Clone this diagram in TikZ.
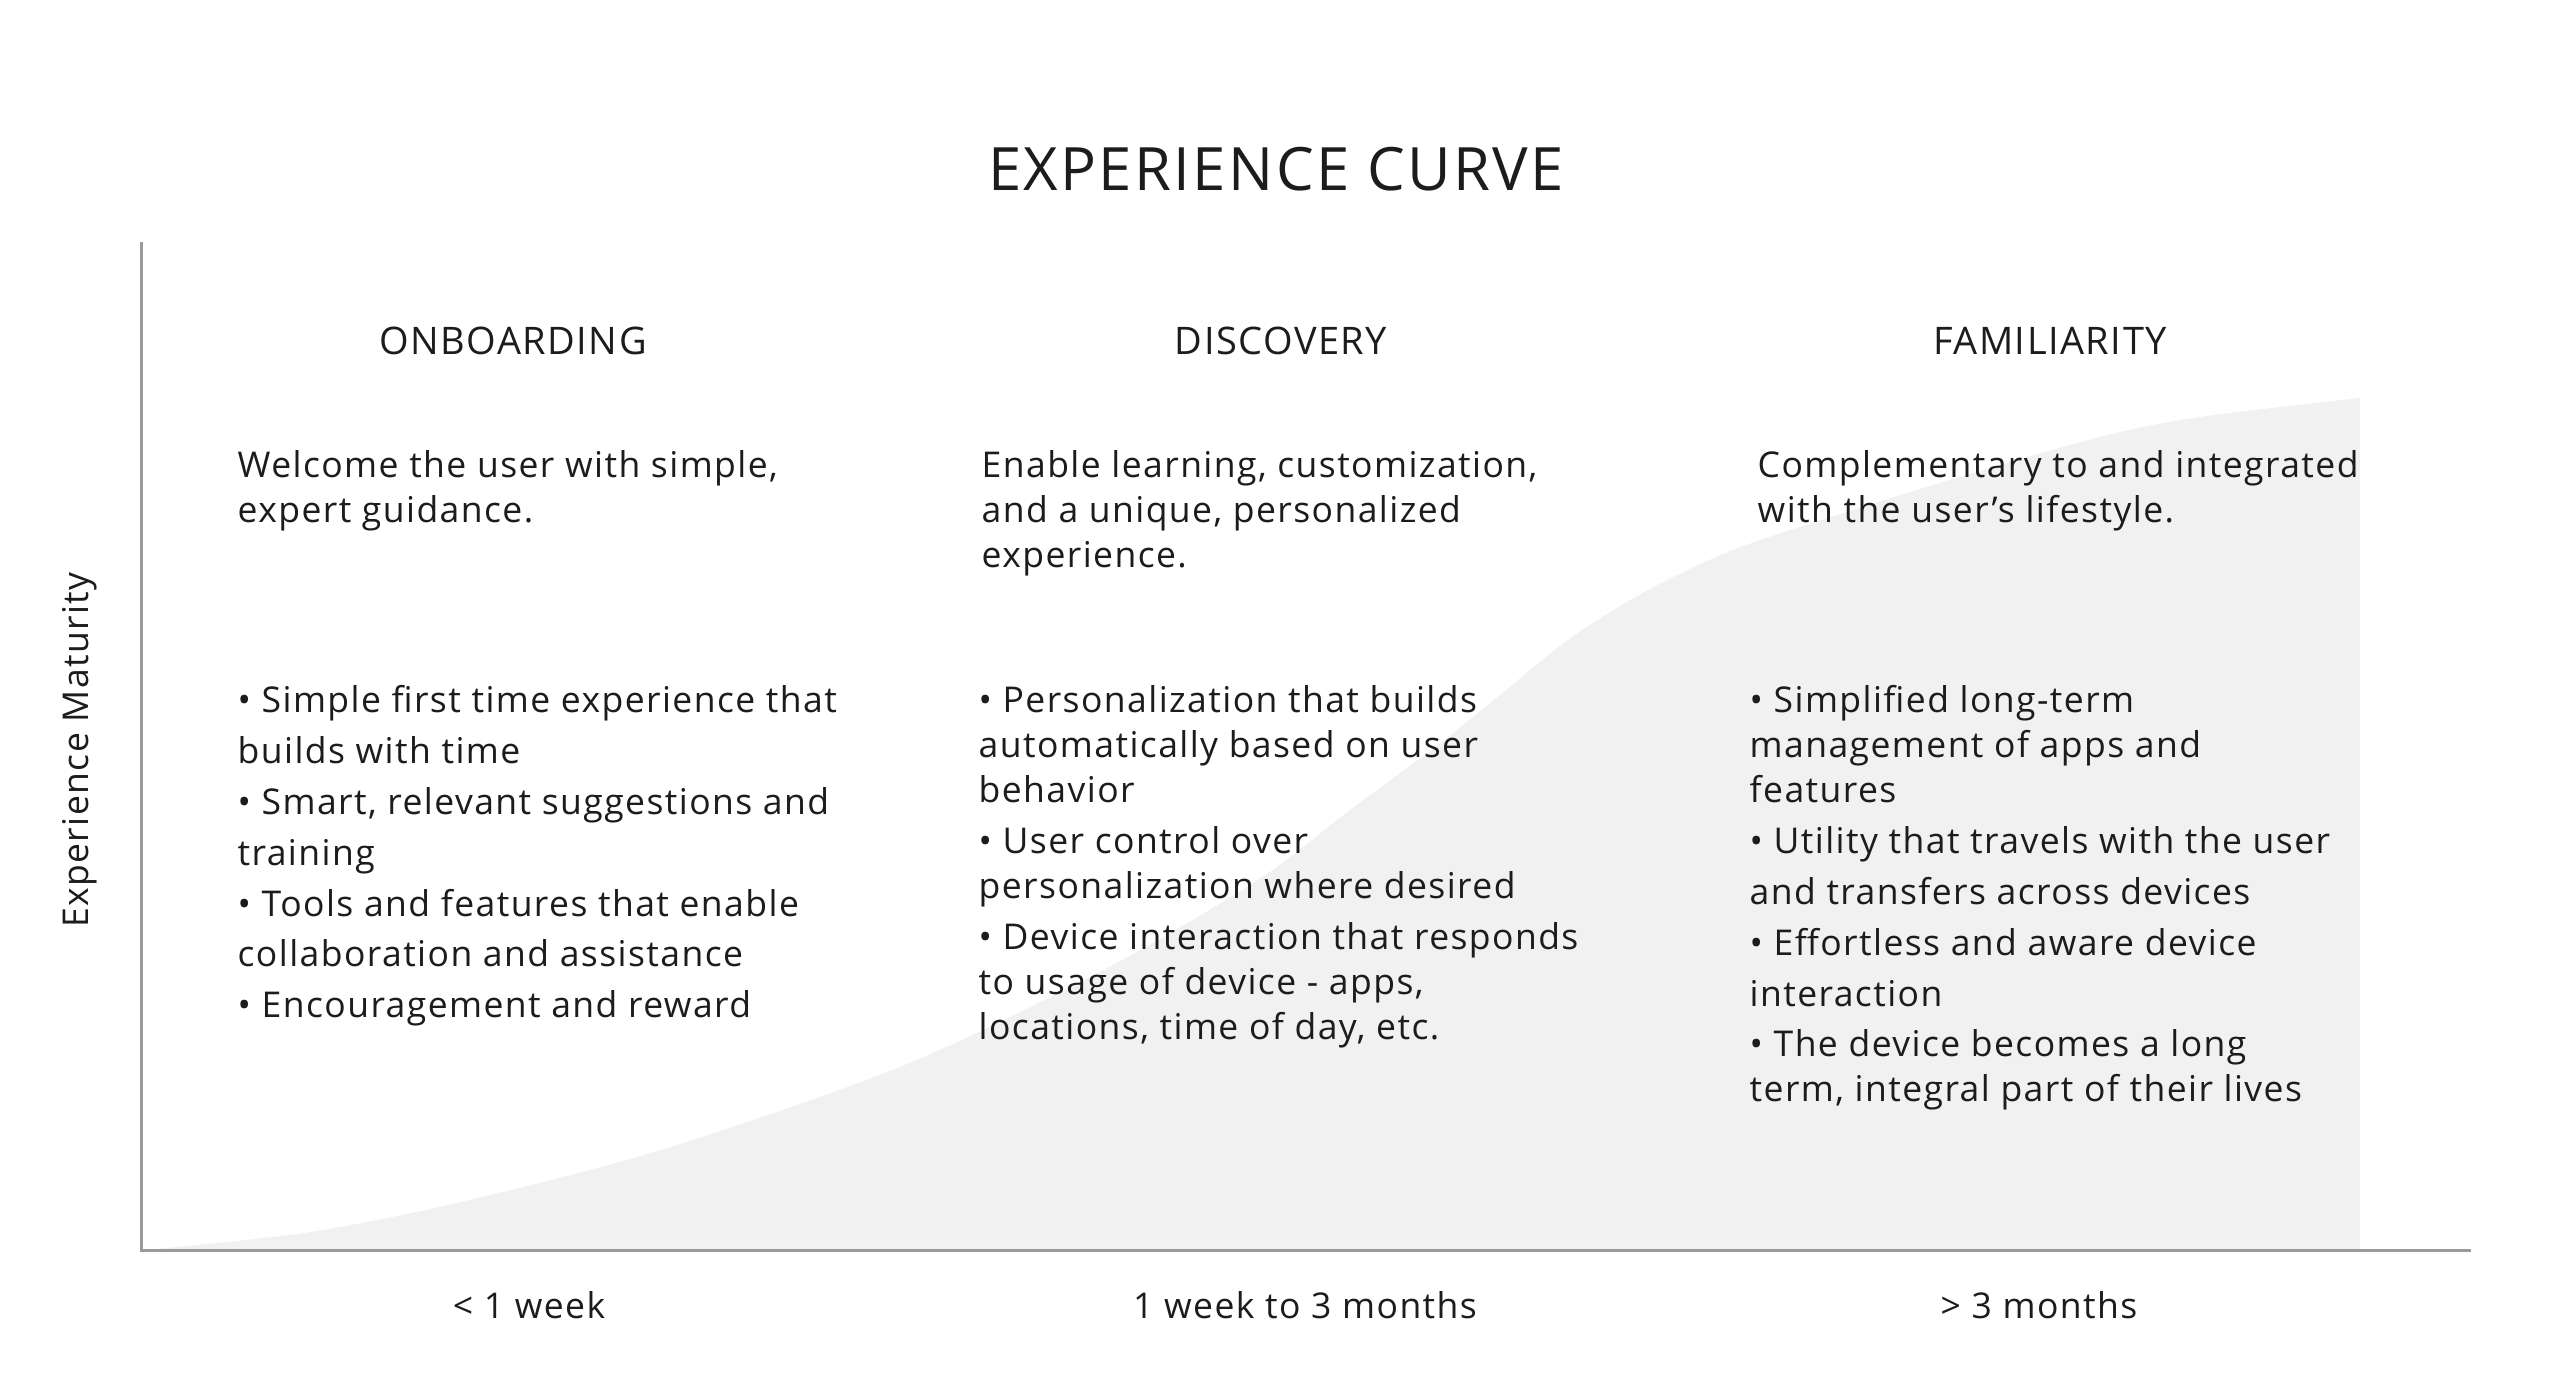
\documentclass[tikz,border=0pt]{standalone}
\usepackage{fontspec}
\setmainfont{Open Sans}[LetterSpace=4]
\definecolor{ink}{HTML}{1C1C1C}
\definecolor{axisgray}{HTML}{9A9A9A}
\definecolor{curvegray}{HTML}{F1F1F1}
\newcommand{\itemgap}{\\[1.65pt]}
\begin{document}
\begin{tikzpicture}[x=0.01cm,y=-0.01cm,
  axisline/.style={draw=axisgray, line width=0.03cm},
  curvefill/.style={fill=curvegray},
  heading/.style={inner sep=0, text=ink, font=\fontsize{17}{20}\selectfont},
  phase/.style={inner sep=0, text=ink, font=\fontsize{10.8}{13}\selectfont},
  body/.style={inner sep=0, anchor=north west, align=left, text=ink, font=\fontsize{10.1}{12.8}\selectfont},
  label/.style={inner sep=0, text=ink, font=\fontsize{10.1}{12.8}\selectfont}]

% canvas
\fill[white] (0,0) rectangle (2568,1383);
\useasboundingbox (0,0) rectangle (2568,1383);

% shaded maturity curve
\fill[curvefill] plot[smooth, tension=0.5] coordinates {(145,1250) (304,1233) (457,1203) (661,1150) (900,1067) (1100,972) (1258,880) (1350,810) (1438,745) (1500,695) (1572,637) (1648,590) (1733,550) (1828,518) (1950,480) (2100,437) (2200,417) (2360,398)} -- (2360,1250) -- cycle;

% axes
\coordinate (ytop) at (141,242);
\coordinate (origin) at (141,1251);
\coordinate (xend) at (2471,1251);
\draw[axisline] (ytop) -- (origin) -- (xend);

% title
\node[heading] (title) at (1276,169) {EXPERIENCE CURVE};

% axis labels
\node[label, rotate=90] (ylab) at (80,750) {Experience Maturity};
\node[label] (t1) at (529,1305) {< 1 week};
\node[label] (t2) at (1305,1305) {1 week to 3 months};
\node[label] (t3) at (2039,1305) {> 3 months};

% phase headings
\node[phase] (p1) at (513,341) {ONBOARDING};
\node[phase] (p2) at (1281,341) {DISCOVERY};
\node[phase] (p3) at (2050,341) {FAMILIARITY};

% phase summaries
\node[body] (d1) at (237,450) {Welcome the user with simple,\\expert guidance.};
\node[body] (d2) at (981,450) {Enable learning, customization,\\and a unique, personalized\\experience.};
\node[body] (d3) at (1757,450) {Complementary to and integrated\\with the user’s lifestyle.};

% phase details
\node[body] (b1) at (237,685) {• Simple first time experience that\itemgap builds with time\itemgap • Smart, relevant suggestions and\itemgap training\itemgap • Tools and features that enable\itemgap collaboration and assistance\itemgap • Encouragement and reward};
\node[body] (b2) at (978,685) {• Personalization that builds\\automatically based on user\\behavior\itemgap • User control over\\personalization where desired\itemgap • Device interaction that responds\\to usage of device - apps,\\locations, time of day, etc.};
\node[body] (b3) at (1749,685) {• Simplified long-term\\management of apps and\\features\itemgap • Utility that travels with the user\itemgap and transfers across devices\itemgap • Effortless and aware device\itemgap interaction\itemgap • The device becomes a long\\term, integral part of their lives};
\end{tikzpicture}
\end{document}
